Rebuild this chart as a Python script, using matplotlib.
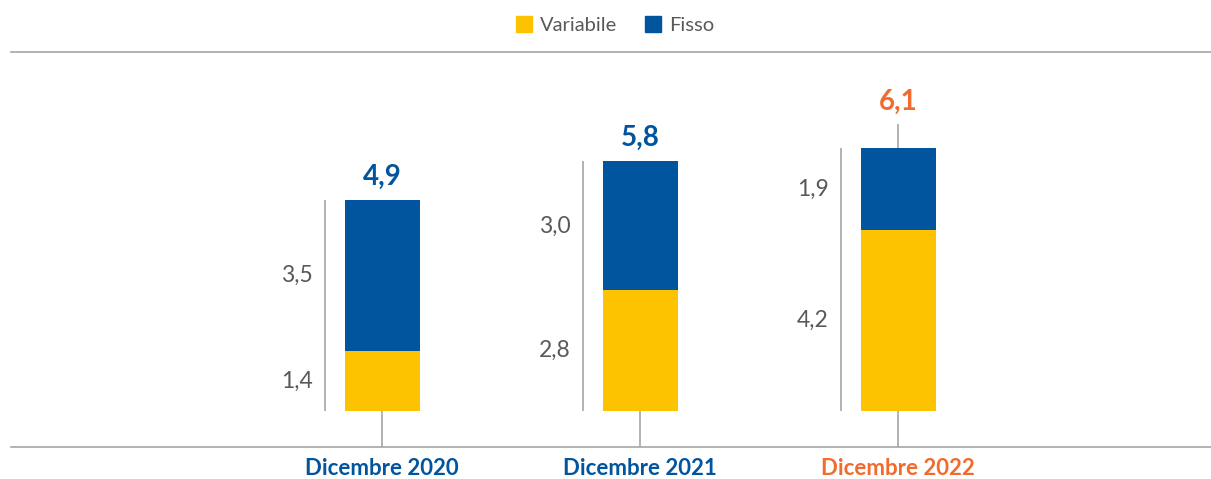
import matplotlib.pyplot as plt
from matplotlib.lines import Line2D
import numpy as np

# Dati (miliardi)
categorie = ["Dicembre 2020", "Dicembre 2021", "Dicembre 2022"]
variabile = [1.4, 2.8, 4.2]
fisso = [3.5, 3.0, 1.9]
totale = [4.9, 5.8, 6.1]

GIALLO = "#FDC300"
BLU = "#00559E"
ARANCIO = "#F26B2D"
GRIGIO = "#A6A6A6"
TESTO = "#595959"

plt.rcParams['font.family'] = ['Lato', 'DejaVu Sans']


def fmt(v):
    return f"{v:.1f}".replace(".", ",")


def main():
    fig = plt.figure(figsize=(12.11, 4.79), dpi=100)
    ax = fig.add_axes([11 / 1211, 32 / 479, 1200 / 1211, 395 / 479])

    x = np.arange(len(categorie))
    px = 1 / 258.0  # unita x per pixel
    py = 1 / 43.05  # unita y per pixel
    larg = 75 * px
    ax.set_xlim(-371 * px, (1200 - 371) * px)
    ax.set_ylim(-36 * py, (395 - 36) * py)

    ax.bar(x, variabile, width=larg, color=GIALLO, label="Variabile")
    ax.bar(x, fisso, width=larg, bottom=variabile, color=BLU, label="Fisso")

    colori_cat = [BLU, BLU, ARANCIO]
    for i in range(len(categorie)):
        # linea verticale a sinistra della barra
        xl = x[i] - larg / 2 - 20 * px
        ax.vlines(xl, 0, totale[i], color=GRIGIO, lw=1.2)
        ax.text(xl - 12 * px, variabile[i] / 2, fmt(variabile[i]), ha="right",
                va="center", fontsize=16.5, color=TESTO)
        ax.text(xl - 12 * px, variabile[i] + fisso[i] / 2, fmt(fisso[i]),
                ha="right", va="center", fontsize=16.5, color=TESTO)
        # tacca sotto la barra
        ax.vlines(x[i], -36 * py, 0, color=GRIGIO, lw=1.2)
        top = totale[i]
        if i == len(categorie) - 1:
            ax.vlines(x[i], totale[i], totale[i] + 24 * py, color=GRIGIO, lw=1.2)
            top = totale[i] + 24 * py
        ax.text(x[i], top + 10 * py, fmt(totale[i]), ha="center", va="bottom",
                fontsize=20, fontweight="bold", color=colori_cat[i])
        ax.text(x[i], -36 * py - 11 * py, categorie[i], ha="center", va="top",
                fontsize=16, fontweight="bold", color=colori_cat[i])

    for s in ["left", "right"]:
        ax.spines[s].set_visible(False)
    for s in ["top", "bottom"]:
        ax.spines[s].set_color(GRIGIO)
        ax.spines[s].set_linewidth(1.2)
    ax.set_xticks([])
    ax.set_yticks([])

    handles = [Line2D([], [], marker="s", ls="", color=GIALLO, markersize=12),
               Line2D([], [], marker="s", ls="", color=BLU, markersize=12)]
    fig.legend(handles, ["Variabile", "Fisso"], loc="center",
               bbox_to_anchor=(0.507, 0.947), ncol=2, frameon=False,
               fontsize=14.5, labelcolor=TESTO, handletextpad=0.3,
               columnspacing=1.3, handlelength=1.0)

    fig.savefig("out.png", dpi=100)


if __name__ == "__main__":
    main()
